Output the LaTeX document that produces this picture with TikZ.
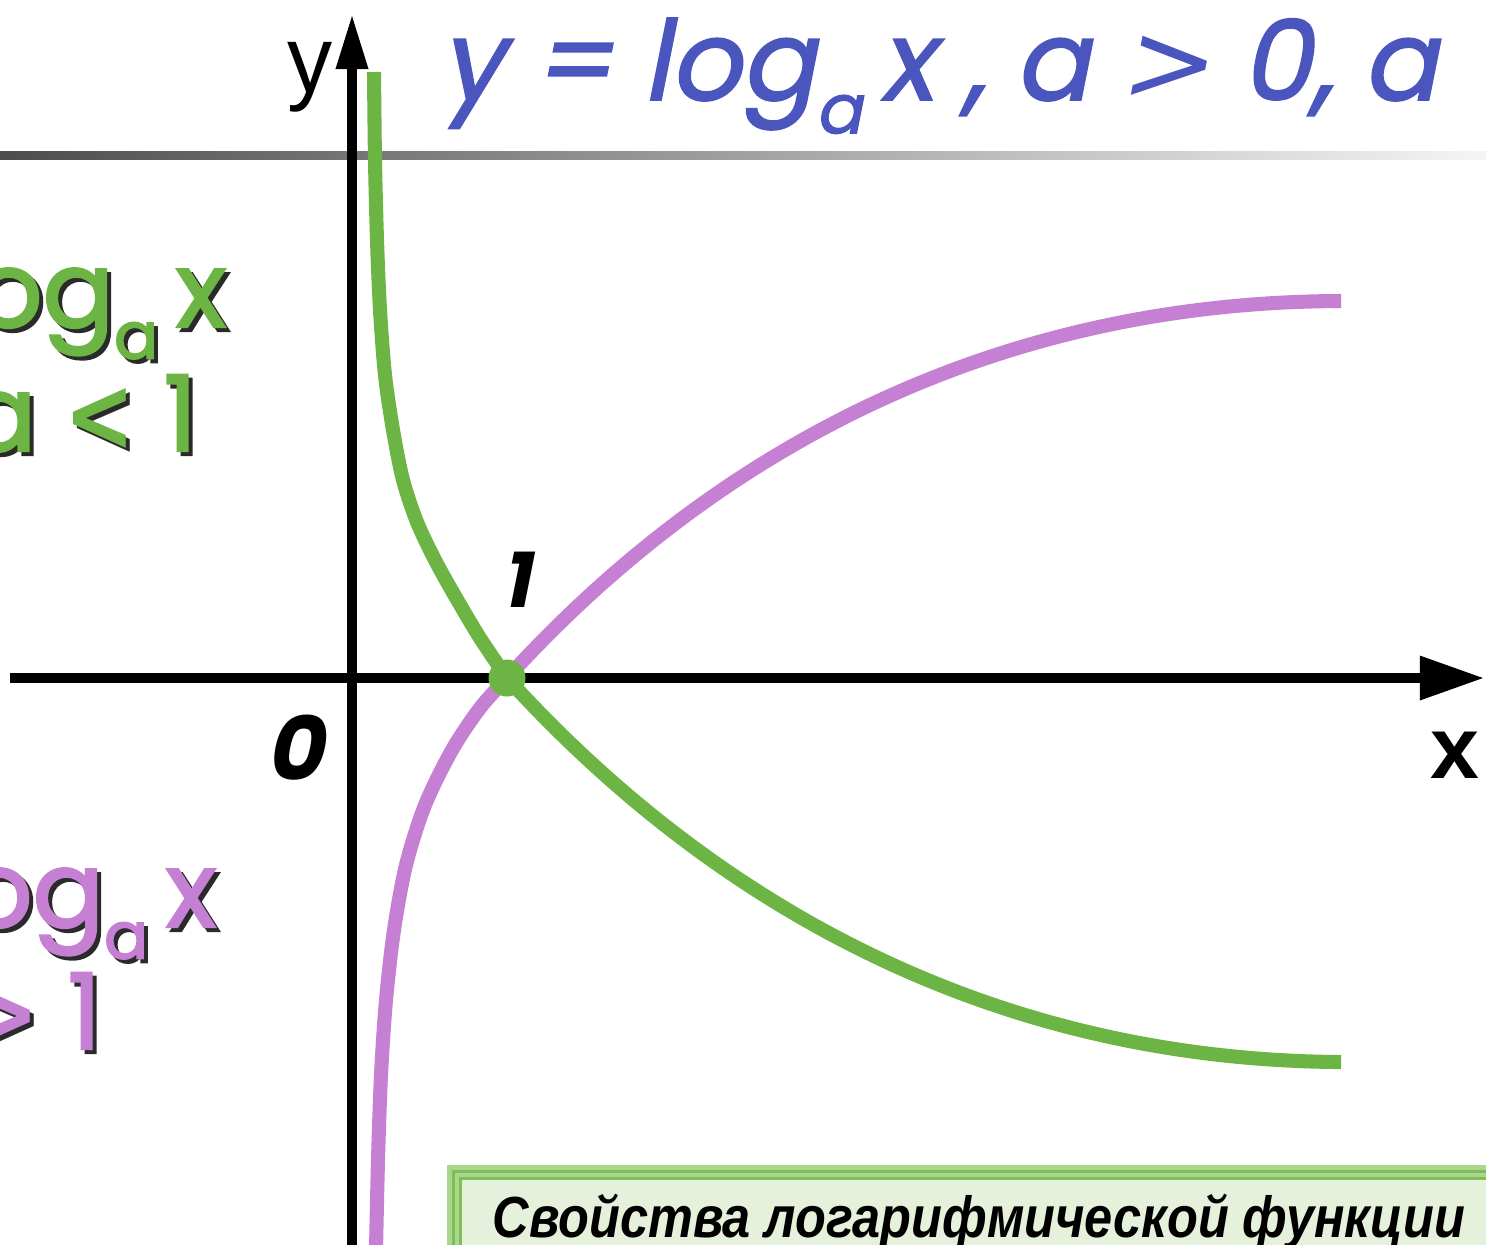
\documentclass[tikz,border=0pt]{standalone}
\usepackage{fontspec}
\usepackage{graphicx}
\setmainfont{Liberation Sans}
\newfontfamily\gothicit[FakeSlant=0.2,FakeBold=1.6]{Poppins}
\newfontfamily\gothiclbl[FakeBold=2.2]{Poppins}
\newfontfamily\tickfont[FakeSlant=0.2]{Poppins}
\newfontfamily\symb{DejaVu Sans}
\newfontfamily\symbit[FakeSlant=0.2]{DejaVu Sans}
\usetikzlibrary{arrows.meta}
\definecolor{Leaf}{HTML}{6CB545}
\definecolor{Lilac}{HTML}{C57FD3}
\definecolor{Indigo}{HTML}{4B55BE}
\definecolor{Shade}{HTML}{2A2A2A}
\definecolor{BoxFill}{HTML}{E6F1DC}
\definecolor{BoxEdge}{HTML}{A9D58D}
\definecolor{BoxLine}{HTML}{7DBE57}
\newcommand{\sba}{\raisebox{-0.3em}{\scalebox{0.62}{a}}}
\newcommand{\cmp}[1]{\scalebox{0.8}[1]{\symb\bfseries#1}}

\begin{document}
\begin{tikzpicture}[x=0.01cm,y=-0.01cm,
  axis/.style={line width=2.7pt},
  graph/.style={line width=4pt},
  biglbl/.style={font=\gothiclbl\fontsize{30}{34}\selectfont, inner sep=0},
  ticklbl/.style={inner sep=0, anchor=base east}]
\useasboundingbox (0,0) rectangle (1486,1244);
\clip (0,0) rectangle (1486,1244);
\fill[white] (0,0) rectangle (1486,1244);
% header rule
\shade[left color=black!70, right color=black!4] (0,151) rectangle (1486,159);
\node[anchor=base west, text=Indigo, inner sep=0, font=\gothicit\fontsize{31.5}{36}\selectfont] (title) at (440,100){y = log\sba\,x , a {\symbit>} 0, a};
% axes
\coordinate (xl) at (10,678);\coordinate (xr) at (1484,678);
\coordinate (yb) at (352,1260);\coordinate (yt) at (352,14);
\draw[axis, -{Triangle[length=0.64cm,width=0.42cm]}] (xl) -- (xr);
\draw[axis, -{Triangle[length=0.55cm,width=0.3cm]}] (yb) -- (yt);
\node[ticklbl, font=\fontsize{27}{30}\selectfont] (ylbl) at (333,92){\scalebox{0.95}[1]{y}};
\node[ticklbl, font=\bfseries\fontsize{25}{30}\selectfont] (xlbl) at (1480,778){x};
\node[ticklbl, font=\tickfont\bfseries\fontsize{25}{30}\selectfont] (zero) at (324,780){0};
\node[ticklbl, font=\tickfont\bfseries\fontsize{21.6}{26}\selectfont] (onelbl) at (531,607){1};
% a > 1
\draw[graph, Lilac] plot[smooth] coordinates {(376,1250) (378,1160) (381,1075) (386,1000) (394,930) (406,865) (425,805) (452,750) (480,708) (507,678)} .. controls (720,444) and (1000,302) .. (1341,301);
% 0 < a < 1
\draw[graph, Leaf] plot[smooth] coordinates {(374,72) (375,160) (377,240) (380,310) (385,375) (393,430) (403,480) (417,522) (435,560) (455,596) (480,638) (507,678)} .. controls (720,912) and (1000,1060) .. (1341,1062);
\node[circle, fill=Leaf, inner sep=0, minimum size=0.37cm] (one) at (507,678){};
% side labels
\node[biglbl, anchor=base east, text=Shade] (gA-s) at (231,331){log\sba\,x};
\node[biglbl, anchor=base east, text=Leaf] (gA) at (227,327){log\sba\,x};
\node[biglbl, anchor=base east, text=Shade] (gB-s) at (202,455){a \cmp{<} 1};
\node[biglbl, anchor=base east, text=Leaf] (gB) at (198,451){a \cmp{<} 1};
\node[biglbl, anchor=base east, text=Shade] (pA-s) at (221,931){log\sba\,x};
\node[biglbl, anchor=base east, text=Lilac] (pA) at (217,927){log\sba\,x};
\node[biglbl, anchor=base east, text=Shade] (pB-s) at (106,1053){a \cmp{>} 1};
\node[biglbl, anchor=base east, text=Lilac] (pB) at (102,1049){a \cmp{>} 1};
% caption box
\fill[BoxEdge] (447,1165) rectangle (1500,1260);
\fill[BoxLine] (452,1170) rectangle (1500,1260);
\fill[BoxEdge] (455,1173) rectangle (1500,1260);
\fill[BoxLine] (459,1177) rectangle (1500,1260);
\fill[BoxFill] (462,1180) rectangle (1500,1260);
\node[anchor=base west, inner sep=0, font=\bfseries\itshape\fontsize{16.5}{20}\selectfont] (caption) at (492,1237){\scalebox{0.87}[1]{Свойства логарифмической функции}};
\end{tikzpicture}
\end{document}
